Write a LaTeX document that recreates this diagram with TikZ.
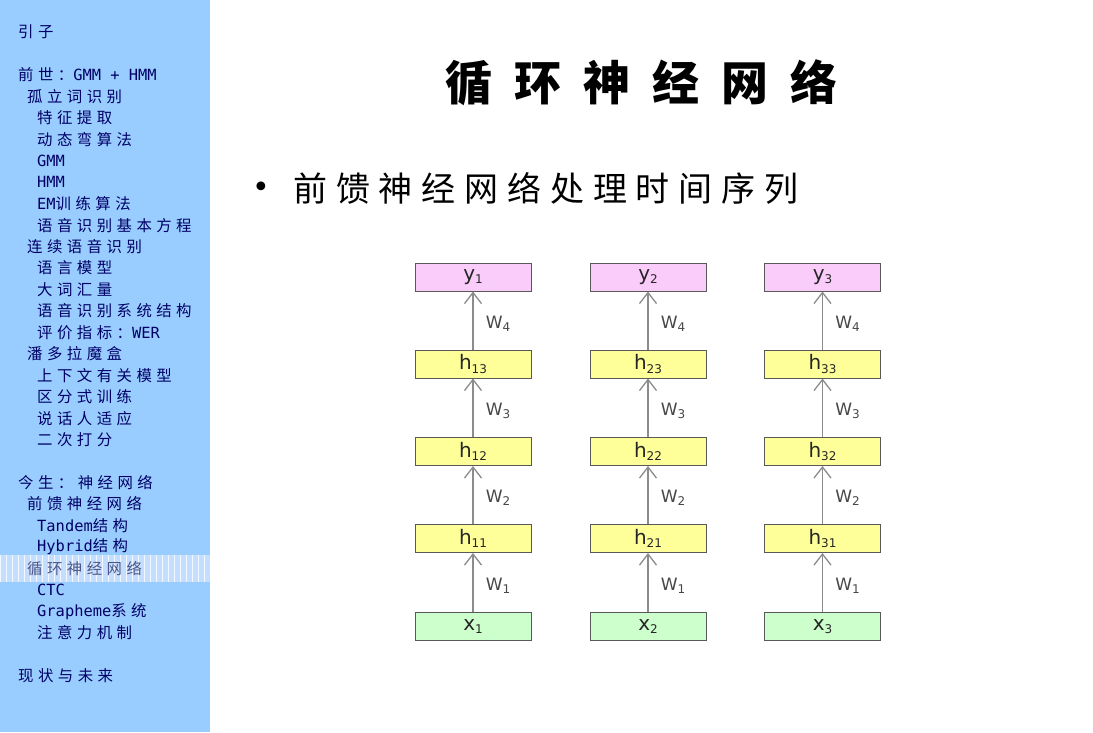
\documentclass[tikz,border=0pt]{standalone}
\usepackage{fontspec}
\usetikzlibrary{arrows.meta}
\newfontfamily\sbcjk[LetterSpace=29]{Noto Sans CJK SC}
\newfontfamily\sblat{DejaVu Sans Mono}
\newfontfamily\titlefont[LetterSpace=47]{Noto Sans CJK SC}
\newfontfamily\bodyfont[LetterSpace=26]{Noto Sans CJK SC}
\newfontfamily\diafont{DejaVu Sans}
\definecolor{sidebar}{HTML}{99CCFF}
\definecolor{hlblue}{HTML}{C4DEFF}
\definecolor{navy}{HTML}{000066}
\definecolor{pinkbox}{HTML}{FACCFA}
\definecolor{yelbox}{HTML}{FFFF99}
\definecolor{grnbox}{HTML}{CCFFCC}
\newcommand\mysub[1]{{\fontsize{12}{12}\selectfont\raisebox{-3.5pt}{#1}}}
\newcommand\wsub[1]{{\fontsize{12}{12}\selectfont\raisebox{-3pt}{#1}}}
\newcommand\latw[1]{{\sblat #1}}
\newcommand\sbitem[4]{\node[sbtext] (#1) at (#3,{32.1+21.45*#2}) {#4};}
\begin{document}
\begin{tikzpicture}[x=1pt,y=-1pt,
  sbtext/.style={anchor=west,inner sep=0pt,text=navy,font=\sbcjk\fontsize{15.4}{15.4}\selectfont},
  nnbox/.style={draw=black!65,line width=1pt,minimum width=116pt,minimum height=28pt,inner sep=0pt,
     font=\diafont\fontsize{20}{20}\selectfont,text=black!85},
  ybox/.style={nnbox,fill=pinkbox},
  hbox/.style={nnbox,fill=yelbox},
  xbox/.style={nnbox,fill=grnbox},
  arr/.style={draw=black!45,line width=1.8pt,-{Straight Barb[length=11pt,width=17pt,line width=1.3pt]}},
  wlab/.style={anchor=west,inner sep=0pt,xshift=12pt,text=black!72,font=\diafont\fontsize{17}{17}\selectfont}
]
\useasboundingbox (0,0) rectangle (1093,732);
\fill[white] (0,0) rectangle (1093,732);
% sidebar
\fill[sidebar] (0,0) rectangle (210,732);
\fill[hlblue] (0,555) rectangle (210,582);
\draw[white,line width=0.7pt,opacity=0.8,step=6] (0,555) grid (210,582);
\sbitem{s0}{0}{18}{引子}
\sbitem{s2}{2}{18}{前世：\latw{GMM + HMM}}
\sbitem{s3}{3}{27}{孤立词识别}
\sbitem{s4}{4}{37}{特征提取}
\sbitem{s5}{5}{37}{动态弯算法}
\sbitem{s6}{6}{37}{\latw{GMM}}
\sbitem{s7}{7}{37}{\latw{HMM}}
\sbitem{s8}{8}{37}{\latw{EM}训练算法}
\sbitem{s9}{9}{37}{语音识别基本方程}
\sbitem{s10}{10}{27}{连续语音识别}
\sbitem{s11}{11}{37}{语言模型}
\sbitem{s12}{12}{37}{大词汇量}
\sbitem{s13}{13}{37}{语音识别系统结构}
\sbitem{s14}{14}{37}{评价指标：\latw{WER}}
\sbitem{s15}{15}{27}{潘多拉魔盒}
\sbitem{s16}{16}{37}{上下文有关模型}
\sbitem{s17}{17}{37}{区分式训练}
\sbitem{s18}{18}{37}{说话人适应}
\sbitem{s19}{19}{37}{二次打分}
\sbitem{s21}{21}{18}{今生：神经网络}
\sbitem{s22}{22}{27}{前馈神经网络}
\sbitem{s23}{23}{37}{\latw{Tandem}结构}
\sbitem{s24}{24}{37}{\latw{Hybrid}结构}
\node[sbtext,text=black!35!hlblue!60!navy] (s25) at (27,{32.1+21.45*25}) {循环神经网络};
\sbitem{s26}{26}{37}{\latw{CTC}}
\sbitem{s27}{27}{37}{\latw{Grapheme}系统}
\sbitem{s28}{28}{37}{注意力机制}
\sbitem{s30}{30}{18}{现状与未来}
% title
\node[anchor=west,inner sep=0pt,font=\titlefont\bfseries\fontsize{47}{47}\selectfont] (title) at (445,83) {循环神经网络};
% bullet
\node[anchor=west,inner sep=0pt,font=\diafont\fontsize{30}{30}\selectfont] (bul) at (252,190) {•};
\node[anchor=west,inner sep=0pt,font=\bodyfont\fontsize{34}{34}\selectfont] (btext) at (293,188) {前馈神经网络处理时间序列};
% boxes
\foreach \c/\cx in {1/473,2/648,3/822.5}{
  \node[ybox] (y\c) at (\cx,277) {y\mysub{\c}};
  \node[hbox] (h\c3) at (\cx,364) {h\mysub{\c3}};
  \node[hbox] (h\c2) at (\cx,451.5) {h\mysub{\c2}};
  \node[hbox] (h\c1) at (\cx,538.5) {h\mysub{\c1}};
  \node[xbox] (x\c) at (\cx,626.5) {x\mysub{\c}};
  \draw[arr] (x\c.north) -- (h\c1.south) node[wlab,pos=0.45] (w1\c) {W\wsub{1}};
  \draw[arr] (h\c1.north) -- (h\c2.south) node[wlab,pos=0.45] (w2\c) {W\wsub{2}};
  \draw[arr] (h\c2.north) -- (h\c3.south) node[wlab,pos=0.45] (w3\c) {W\wsub{3}};
  \draw[arr] (h\c3.north) -- (y\c.south) node[wlab,pos=0.45] (w4\c) {W\wsub{4}};
}
\end{tikzpicture}
\end{document}
